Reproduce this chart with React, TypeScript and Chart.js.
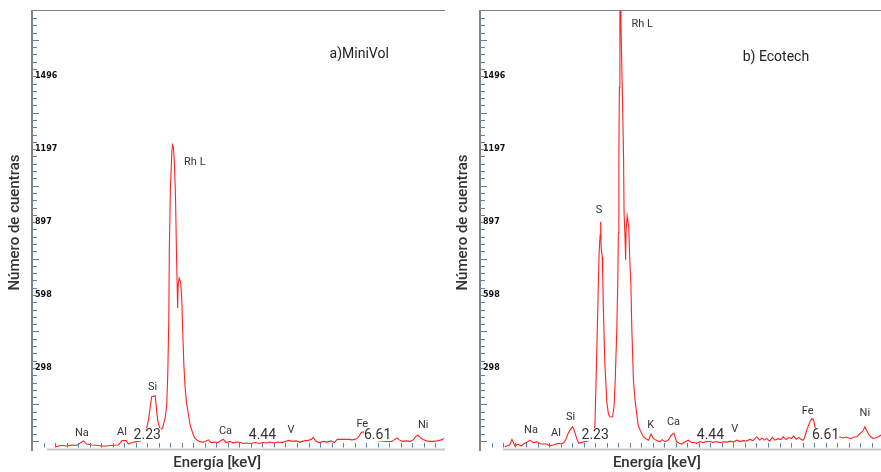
import React, { useEffect, useRef } from 'react';
import { Chart, registerables } from 'chart.js';

Chart.register(...registerables);
Chart.defaults.font.family = 'Roboto';

// ---- Spectrum a) MiniVol ----
const LEFT_KEV = [
  0.46, 0.57, 0.66, 0.76, 0.86, 0.92, 0.99, 1.05, 1.15, 1.24, 1.34, 1.44, 1.56, 1.66, 1.73, 1.81, 1.85, 1.92, 2.01, 2.10,
  2.17, 2.24, 2.27, 2.30, 2.37, 2.40, 2.43, 2.47, 2.51, 2.56, 2.59, 2.61, 2.63, 2.64, 2.66, 2.69, 2.70, 2.72, 2.74, 2.76,
  2.78, 2.80, 2.81, 2.83, 2.86, 2.88, 2.90, 2.92, 2.94, 2.97, 3.01, 3.04, 3.07, 3.11, 3.13, 3.19, 3.23, 3.29, 3.33, 3.39,
  3.44, 3.52, 3.58, 3.63, 3.68, 3.73, 3.81, 3.87, 3.94, 4.00, 4.06, 4.13, 4.21, 4.29, 4.37, 4.44, 4.50, 4.58, 4.65, 4.73,
  4.81, 4.88, 4.94, 5.00, 5.08, 5.15, 5.23, 5.31, 5.37, 5.41, 5.45, 5.52, 5.60, 5.67, 5.75, 5.81, 5.87, 5.94, 6.02, 6.10,
  6.15, 6.21, 6.25, 6.29, 6.33, 6.37, 6.40, 6.46, 6.54, 6.69, 6.85, 6.92, 6.96, 7.02, 7.06, 7.12, 7.19, 7.27, 7.33, 7.38,
  7.42, 7.46, 7.52, 7.58, 7.63, 7.71, 7.79, 7.87, 7.92,
];
const LEFT_COUNTS = [
  -24, -18, -21, -17, -18, -10, 0, -13, -17, -18, -21, -21, -18, -17, 1, 1, -13, -7, -3, 0,
  20, 86, 135, 181, 184, 114, 69, 47, 52, 94, 147, 270, 496, 783, 1029, 1194, 1214, 1202, 1132, 988,
  742, 545, 640, 668, 648, 578, 434, 311, 229, 156, 106, 65, 45, 20, 11, 0, -3, -5, -3, 4,
  -7, -5, -7, 2, 6, -7, -2, -9, -5, -6, -11, -9, -11, -7, -11, -7, -9, -5, -9, -5,
  -7, -2, 2, -2, 0, -5, 0, 2, 6, 14, 0, -7, -2, -5, 0, -7, 6, 6, 6, 6,
  4, 6, 10, 20, 34, 37, 30, 16, 4, 0, -2, -2, 4, 12, 4, -2, 0, -2, 4, 18,
  24, 14, 6, 0, -2, -2, 0, 4, 10,
];

// ---- Spectrum b) Ecotech ----
const RIGHT_KEV = [
  0.475, 0.57, 0.615, 0.67, 0.73, 0.79, 0.86, 0.91, 0.96, 1.02, 1.10, 1.17, 1.28, 1.34, 1.41, 1.50, 1.57, 1.62, 1.66, 1.69,
  1.73, 1.78, 1.82, 1.87, 1.90, 1.98, 2.06, 2.12, 2.16, 2.19, 2.21, 2.24, 2.27, 2.29, 2.31, 2.32, 2.33, 2.35, 2.36, 2.37,
  2.40, 2.44, 2.47, 2.50, 2.55, 2.58, 2.60, 2.63, 2.65, 2.66, 2.67, 2.68, 2.69, 2.70, 2.71, 2.72, 2.74, 2.76, 2.77, 2.79,
  2.80, 2.81, 2.83, 2.86, 2.88, 2.90, 2.92, 2.95, 2.98, 3.01, 3.04, 3.08, 3.14, 3.18, 3.24, 3.29, 3.33, 3.38, 3.46, 3.50,
  3.56, 3.62, 3.68, 3.73, 3.78, 3.83, 3.87, 3.94, 4.01, 4.06, 4.12, 4.17, 4.23, 4.29, 4.35, 4.42, 4.48, 4.54, 4.62, 4.68,
  4.75, 4.81, 4.87, 4.94, 5.00, 5.06, 5.12, 5.19, 5.25, 5.32, 5.38, 5.42, 5.47, 5.51, 5.57, 5.62, 5.67, 5.73, 5.79, 5.83,
  5.88, 5.94, 5.99, 6.03, 6.08, 6.13, 6.18, 6.22, 6.25, 6.28, 6.32, 6.35, 6.38, 6.41, 6.44, 6.48, 6.58, 6.73, 6.85, 6.92,
  6.98, 7.04, 7.12, 7.17, 7.25, 7.31, 7.36, 7.40, 7.44, 7.48, 7.52, 7.56, 7.62, 7.66, 7.71,
];
const RIGHT_COUNTS = [
  -24, -17, 6, -21, -13, -21, -10, -5, 3, -7, -4, -13, -13, -21, -17, -10, -13, -5, 10, 28,
  44, 58, 38, 3, -10, -5, -1, 3, 12, 32, 65, 320, 591, 772, 846, 899, 791, 755, 673, 558,
  320, 155, 110, 98, 99, 147, 250, 455, 661, 854, 1153, 1450, 1820, 1820, 1700, 1605, 1400, 1166, 936, 825,
  743, 866, 923, 878, 743, 648, 455, 250, 168, 118, 65, 44, 17, 10, 3, 28, 10, 3, -4, 5,
  -3, 3, 24, 31, -4, -10, -13, -4, 3, -7, -7, -10, -3, -7, -3, -1, -7, -3, -7, -4,
  -5, -1, -5, 3, -3, 1, -1, 6, 1, 17, 3, 12, 3, 10, -1, 14, 3, 9, 5, 17,
  5, 14, 9, 20, 7, 14, 5, 3, 20, 44, 65, 81, 92, 88, 58, 28, 12, 7, 14, 17,
  12, 16, 9, 14, 18, 31, 40, 58, 40, 24, 16, 10, 14, 17, 24,
];

// ---- Axes ----
const Y_MIN = -37.5;
const Y_MAX = 1768;
const Y_MINOR_STEP = 29.92;
const Y_MINOR_COUNT = 59;
const Y_LABELED_INDEX = [10, 20, 30, 40, 50];
const Y_TICK_LABELS = ['298', '598', '897', '1197', '1496'];
const X_TICK_STEP = 0.2215;
const X_LABELED_INDEX = [10, 20, 30];
const X_TICK_LABELS = ['2.23', '4.44', '6.61'];
const Y_TITLE = 'Número de cuentras';
const X_TITLE = 'Energía [keV]';

// ---- Peak annotations (keV, counts) ----
const LEFT_PEAK_NAMES = ['Na', 'Al', 'Si', 'Rh L', 'Ca', 'V', 'Fe', 'Ni'];
const LEFT_PEAK_KEV = [0.96, 1.73, 2.32, 3.13, 3.72, 4.98, 6.35, 7.52];
const LEFT_PEAK_AT = [30, 37, 221, 1142, 41, 45, 67, 65];
const RIGHT_PEAK_NAMES = ['Na', 'Al', 'Si', 'S', 'Rh L', 'K', 'Ca', 'V', 'Fe', 'Ni'];
const RIGHT_PEAK_KEV = [0.98, 1.46, 1.74, 2.29, 3.12, 3.28, 3.72, 4.9, 6.3, 7.4];
const RIGHT_PEAK_AT = [44, 32, 98, 946, 1708, 65, 77, 46, 120, 112];

type PanelProps = {
  kev: number[];
  counts: number[];
  xMax: number;
  names: string[];
  namesKev: number[];
  namesAt: number[];
  title: string;
  titleKev: number;
  titleAt: number;
  xTitleKev: number;
  left: number;
  width: number;
  padRight: number;
  baseInset: number;
};

function Panel(p: PanelProps) {
  const ref = useRef<HTMLCanvasElement>(null);
  useEffect(() => {
    if (!ref.current) return;
    const decor = {
      id: 'decor',
      afterDraw(chart: any) {
        const ctx = chart.ctx;
        const { left, right, top, bottom } = chart.chartArea;
        const xs = chart.scales.x;
        const ys = chart.scales.y;
        ctx.save();
        // frame
        ctx.strokeStyle = '#808080';
        ctx.lineWidth = 1;
        ctx.beginPath();
        ctx.moveTo(left, top + 0.5);
        ctx.lineTo(right, top + 0.5);
        ctx.stroke();
        ctx.strokeStyle = '#c9c9c9';
        ctx.lineWidth = 2;
        ctx.beginPath();
        ctx.moveTo(left + p.baseInset, bottom - 0.5);
        ctx.lineTo(right, bottom - 0.5);
        ctx.stroke();
        ctx.strokeStyle = '#858585';
        ctx.lineWidth = 2;
        ctx.beginPath();
        ctx.moveTo(left, top);
        ctx.lineTo(left, bottom + 1);
        ctx.stroke();
        // tick marks
        ctx.strokeStyle = '#5680b0';
        ctx.lineWidth = 1;
        ys.ticks.forEach((t: any, k: number) => {
          const y = Math.round(ys.getPixelForValue(t.value)) + 0.5;
          const len = Y_LABELED_INDEX.includes(k) ? 3 : k % 5 === 0 ? 6 : 4;
          ctx.beginPath();
          ctx.moveTo(left + 1, y);
          ctx.lineTo(left + 1 + len, y);
          ctx.stroke();
        });
        xs.ticks.forEach((t: any, k: number) => {
          if (k === 0) return;
          const x = Math.round(xs.getPixelForValue(t.value)) + 0.5;
          ctx.beginPath();
          ctx.moveTo(x, bottom - 7);
          ctx.lineTo(x, bottom - 2.5);
          ctx.stroke();
        });
        // peak labels
        ctx.fillStyle = '#333';
        ctx.textAlign = 'center';
        ctx.textBaseline = 'middle';
        ctx.font = '11px Roboto';
        p.names.forEach((n, i) => {
          ctx.fillText(n, xs.getPixelForValue(p.namesKev[i]), ys.getPixelForValue(p.namesAt[i]));
        });
        ctx.font = '14px Roboto';
        ctx.fillStyle = '#222';
        ctx.fillText(p.title, xs.getPixelForValue(p.titleKev), ys.getPixelForValue(p.titleAt));
        // axis titles
        ctx.font = '500 15px Roboto';
        ctx.fillStyle = '#333';
        ctx.fillText(X_TITLE, xs.getPixelForValue(p.xTitleKev), bottom + 13.5);
        ctx.translate(left - 16.5, (top + bottom) / 2 - 7.5);
        ctx.rotate(-Math.PI / 2);
        ctx.fillText(Y_TITLE, 0, 0);
        ctx.restore();
      },
    };
    const chart = new Chart(ref.current, {
      type: 'line',
      data: {
        datasets: [
          {
            data: p.kev.map((x, i) => ({ x, y: p.counts[i] })),
            borderColor: '#ff2222',
            borderWidth: 1.1,
            pointRadius: 0,
            tension: 0,
            fill: false,
            clip: 0,
          } as any,
        ],
      },
      options: {
        responsive: false,
        animation: false,
        events: [],
        layout: { padding: { top: 10, right: p.padRight, left: 0, bottom: 0 } },
        plugins: { legend: { display: false }, tooltip: { enabled: false } },
        scales: {
          x: {
            type: 'linear',
            min: 0,
            max: p.xMax,
            grid: { display: false, drawTicks: false },
            border: { display: false },
            afterFit: (s: any) => {
              s.height = 22;
            },
            afterBuildTicks: (s: any) => {
              const t: any[] = [];
              for (let k = 0; k * X_TICK_STEP <= p.xMax; k++) t.push({ value: k * X_TICK_STEP });
              s.ticks = t;
            },
            ticks: {
              autoSkip: false,
              maxRotation: 0,
              minRotation: 0,
              mirror: true,
              padding: 6,
              z: 1,
              showLabelBackdrop: true,
              backdropColor: '#ffffff',
              backdropPadding: { top: -1, bottom: -3, left: 0, right: 0 },
              color: '#333',
              font: { family: 'Roboto', size: 14 },
              callback: (_v: any, i: number) => {
                const j = X_LABELED_INDEX.indexOf(i);
                return j >= 0 ? X_TICK_LABELS[j] : '';
              },
            },
          } as any,
          y: {
            type: 'linear',
            min: Y_MIN,
            max: Y_MAX,
            grid: { display: false, drawTicks: false },
            border: { display: false },
            afterFit: (s: any) => {
              s.width = 32;
            },
            afterBuildTicks: (s: any) => {
              const t: any[] = [];
              for (let k = 0; k < Y_MINOR_COUNT; k++) t.push({ value: k * Y_MINOR_STEP });
              s.ticks = t;
            },
            ticks: {
              mirror: true,
              padding: 3,
              autoSkip: false,
              color: '#111',
              font: { family: 'DejaVu Sans', size: 8, weight: 'bold' },
              callback: (_v: any, i: number) => {
                const j = Y_LABELED_INDEX.indexOf(i);
                return j >= 0 ? Y_TICK_LABELS[j] : '';
              },
            },
          } as any,
        },
      },
      plugins: [decor],
    });
    return () => chart.destroy();
  }, []);
  return (
    <canvas
      ref={ref}
      width={p.width}
      height={472}
      style={{ position: 'absolute', left: p.left, top: 0, width: p.width, height: 472 }}
    />
  );
}

export default function App() {
  return (
    <div
      style={{ position: 'fixed', left: 0, top: 0, width: 881, height: 472, background: '#fff', overflow: 'hidden' }}
    >
      <Panel
        kev={LEFT_KEV}
        counts={LEFT_COUNTS}
        xMax={7.94}
        names={LEFT_PEAK_NAMES}
        namesKev={LEFT_PEAK_KEV}
        namesAt={LEFT_PEAK_AT}
        title="a)MiniVol"
        titleKev={6.29}
        titleAt={1587}
        xTitleKev={3.56}
        left={0}
        width={448}
        padRight={3}
        baseInset={15}
      />
      <Panel
        kev={RIGHT_KEV}
        counts={RIGHT_COUNTS}
        xMax={7.71}
        names={RIGHT_PEAK_NAMES}
        namesKev={RIGHT_PEAK_KEV}
        namesAt={RIGHT_PEAK_AT}
        title="b) Ecotech"
        titleKev={5.69}
        titleAt={1575}
        xTitleKev={3.4}
        left={448}
        width={433}
        padRight={0}
        baseInset={23}
      />
    </div>
  );
}
